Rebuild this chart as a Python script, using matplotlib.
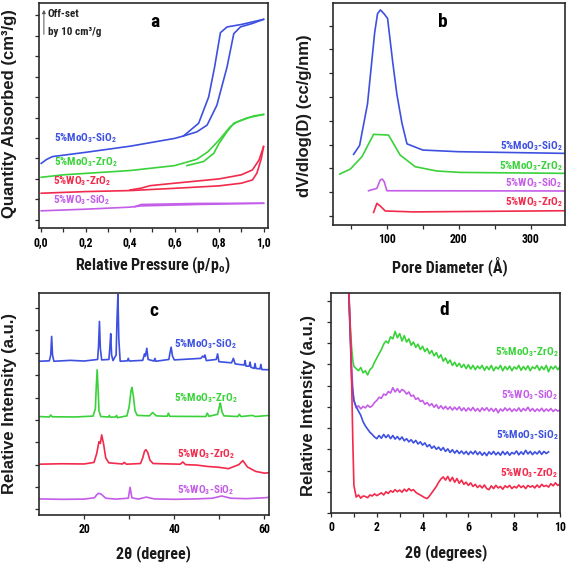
import numpy as np
import matplotlib
matplotlib.use("Agg")
import matplotlib.pyplot as plt
from matplotlib import font_manager
from matplotlib.ticker import MultipleLocator, FixedLocator, FuncFormatter

# ---------------- fonts ----------------
names = {f.name for f in font_manager.fontManager.ttflist}
if 'Roboto Condensed' in names:
    HFONT = 'Roboto Condensed'
    HS = 1.0
else:
    HFONT = 'Liberation Sans'
    HS = 0.85
VFONT = 'Liberation Sans'
plt.rcParams['font.family'] = [HFONT, 'DejaVu Sans']
plt.rcParams['font.weight'] = 'bold'
plt.rcParams['mathtext.fontset'] = 'custom'
plt.rcParams['mathtext.rm'] = HFONT + ':bold'
plt.rcParams['mathtext.bf'] = HFONT + ':bold'
plt.rcParams['mathtext.it'] = HFONT + ':bold'

BLUE = '#3d50e0'
GREEN = '#3ad23a'
RED = '#f22a4b'
PURPLE = '#c45de8'

# ---------------- panel a: isotherms ----------------
a_mosi_ads_p = [0.0, 0.024, 0.05, 0.2, 0.4, 0.6, 0.64, 0.70, 0.746, 0.79, 0.836, 0.866, 0.896, 0.95, 1.0]
a_mosi_ads_v = [2.76, 2.95, 3.09, 3.3, 3.6, 3.98, 4.1, 4.3, 4.63, 5.6, 7.48, 9.1, 9.43, 9.6, 9.8]
a_mosi_des_p = [1.0, 0.9, 0.836, 0.806, 0.78, 0.753, 0.708, 0.64]
a_mosi_des_v = [9.8, 9.55, 9.43, 9.15, 7.48, 6.0, 4.72, 4.1]

a_mozr_ads_p = [0.0, 0.1, 0.4, 0.6, 0.7, 0.75, 0.8, 0.85, 0.875, 0.896, 0.956, 1.0]
a_mozr_ads_v = [2.08, 2.2, 2.41, 2.65, 2.96, 3.33, 3.9, 4.55, 4.75, 4.85, 5.08, 5.15]
a_mozr_des_p = [1.0, 0.926, 0.866, 0.836, 0.8, 0.776, 0.73, 0.655]
a_mozr_des_v = [5.15, 4.98, 4.72, 4.31, 3.74, 3.25, 2.85, 2.65]

a_wzr_ads_p = [0.0, 0.2, 0.4, 0.6, 0.8, 0.9, 0.95, 0.97, 0.99, 1.0]
a_wzr_ads_v = [1.3, 1.38, 1.43, 1.54, 1.66, 1.79, 1.95, 2.28, 3.0, 3.58]
a_wzr_des_p = [1.0, 0.98, 0.95, 0.9, 0.8, 0.6, 0.49, 0.45, 0.4]
a_wzr_des_v = [3.58, 2.93, 2.44, 2.2, 2.0, 1.79, 1.67, 1.55, 1.46]

a_wsi_ads_p = [0.0, 0.2, 0.4, 0.45, 0.7, 1.0]
a_wsi_ads_v = [0.44, 0.52, 0.62, 0.68, 0.75, 0.81]
a_wsi_des_p = [1.0, 0.7, 0.45, 0.42]
a_wsi_des_v = [0.81, 0.8, 0.75, 0.64]

# ---------------- panel b: pore size distribution ----------------
b_mosi_d = [53.7, 62, 73, 79, 83, 87, 91, 96, 101, 108, 114, 121, 128, 150, 200, 348]
b_mosi_v = [2.59, 2.96, 4.7, 6.5, 7.7, 8.5, 8.66, 8.5, 8.3, 6.5, 5.1, 3.9, 3.03, 2.77, 2.7, 2.63]
b_mozr_d = [34.3, 49.1, 65.3, 81.5, 102.3, 118.5, 139.4, 169.4, 201.9, 348]
b_mozr_v = [1.76, 1.97, 2.49, 3.43, 3.40, 2.56, 2.07, 1.89, 1.83, 1.79]
b_wsi_d = [74.5, 86.1, 90.7, 93.5, 96.3, 100, 348]
b_wsi_v = [1.06, 1.16, 1.51, 1.55, 1.44, 1.06, 1.05]
b_wzr_d = [81.5, 86.1, 90.7, 97.7, 137, 348]
b_wzr_v = [0.15, 0.53, 0.42, 0.21, 0.17, 0.22]

# ---------------- panel c: wide-angle XRD ----------------
c_mosi_x = [10, 12.3, 12.6, 12.8, 13.0, 13.3, 17, 20, 23.0, 23.2, 23.4, 23.6, 23.9, 25.5, 25.7, 25.9,
            26.1, 26.4, 27.1, 27.3, 27.5, 27.7, 28.0, 29.6, 29.8, 30.0, 33.0, 33.4, 33.6, 33.9, 34.2,
            35.5, 35.7, 35.9, 38.8, 39.0, 39.3, 39.6, 40.0, 45.9, 46.3, 46.6, 46.8, 47.1, 49.3, 49.6,
            49.9, 52.7, 53.1, 53.5, 55.5, 55.7, 55.9, 56.6, 56.8, 57.0, 57.7, 57.9, 58.1, 59.0, 59.2,
            59.4, 61]
c_mosi_y = [6.62, 6.64, 6.9, 7.73, 6.9, 6.62, 6.66, 6.63, 6.7, 7.3, 8.4, 7.2, 6.68, 6.7, 7.2, 7.85,
            6.9, 6.65, 6.9, 8.5, 9.6, 7.6, 6.62, 6.64, 6.75, 6.63, 6.66, 6.95, 6.85, 7.2, 6.7,
            6.63, 6.75, 6.62, 6.7, 6.95, 7.25, 6.85, 6.68, 6.75, 6.85, 6.8, 6.9, 6.65, 6.7, 6.95,
            6.6, 6.55, 6.75, 6.5, 6.45, 6.65, 6.4, 6.4, 6.58, 6.35, 6.3, 6.52, 6.3, 6.28, 6.48,
            6.25, 6.24]
c_mozr_x = [10, 12.3, 12.6, 12.9, 18, 22.0, 22.5, 22.7, 22.9, 23.1, 23.3, 23.7, 25.4, 25.6, 25.8,
            27.0, 27.2, 27.4, 29.5, 30.0, 30.4, 30.6, 30.9, 31.3, 31.8, 34.5, 35.2, 36.0, 38.4, 38.7,
            39.0, 47.0, 47.3, 47.7, 49.6, 50.0, 50.2, 50.6, 51.0, 54.1, 54.4, 54.8, 57.3, 58, 61]
c_mozr_y = [4.15, 4.13, 4.22, 4.14, 4.13, 4.17, 4.5, 5.5, 6.24, 5.4, 4.4, 4.15, 4.13, 4.2, 4.12,
            4.13, 4.2, 4.1, 4.18, 4.6, 5.3, 5.45, 5.1, 4.4, 4.2, 4.18, 4.33, 4.18, 4.16, 4.3,
            4.16, 4.15, 4.3, 4.16, 4.25, 4.6, 4.75, 4.35, 4.18, 4.15, 4.25, 4.15, 4.2, 4.15, 4.2]
c_wzr_x = [10, 15, 20, 22.2, 22.8, 23.3, 23.6, 23.9, 24.3, 24.8, 25.5, 28.5, 28.9, 29.4, 32.5, 33.0,
           33.4, 33.7, 34.1, 34.6, 35.3, 41.3, 41.9, 42.5, 45, 47.3, 50, 52, 54.3, 55.2, 56.2, 58,
           60, 61]
c_wzr_y = [2.02, 2.04, 2.03, 2.1, 2.5, 3.03, 2.95, 3.33, 2.95, 2.3, 2.08, 2.03, 2.1, 2.02, 2.05, 2.3,
           2.6, 2.67, 2.55, 2.2, 2.05, 2.02, 2.12, 2.0, 1.98, 1.92, 1.88, 1.82, 2.0, 2.18, 1.9, 1.7,
           1.62, 1.64]
c_wsi_x = [10, 15, 20, 22.3, 22.8, 23.2, 23.8, 24.8, 27, 29.8, 30.2, 30.6, 32, 33.8, 35.5, 40, 45,
           48.5, 50.5, 52.5, 56, 58, 60, 61]
c_wsi_y = [0.47, 0.45, 0.46, 0.52, 0.65, 0.72, 0.68, 0.5, 0.46, 0.5, 0.99, 0.52, 0.46, 0.55, 0.47,
           0.45, 0.47, 0.5, 0.6, 0.5, 0.48, 0.5, 0.52, 0.54]

# ---------------- panel d: low-angle XRD ----------------
d_head_x = [0.76, 0.85, 0.9, 0.95, 1.0]
d_x = [round(1.1 + 0.1 * i, 1) for i in range(90)]
d_mozr_head = [10.8, 8.6, 7.8, 7.2, 6.9]
d_mozr_y = [6.8, 6.7, 6.85, 6.6, 6.7, 6.5, 6.75, 6.85, 7.1, 7.3,
            7.5, 7.7, 7.95, 8.1, 8.0, 8.3, 8.2, 8.55, 8.25, 8.45,
            8.1, 8.35, 8.05, 8.2, 7.9, 8.05, 7.8, 7.95, 7.7, 7.85,
            7.6, 7.75, 7.5, 7.65, 7.4, 7.55, 7.3, 7.45, 7.15, 7.3,
            7.05, 7.2, 6.95, 7.1, 6.9, 7.05, 6.85, 7.0, 6.8, 6.98,
            6.78, 6.95, 6.75, 6.92, 6.8, 6.95, 6.72, 6.9, 6.75, 6.95,
            6.7, 6.88, 6.78, 6.95, 6.7, 6.9, 6.75, 6.92, 6.7, 6.88,
            6.78, 6.95, 6.72, 6.9, 6.75, 6.93, 6.7, 6.88, 6.8, 6.95,
            6.72, 6.9, 6.75, 6.95, 6.65, 6.9, 6.78, 6.92, 6.75, 6.88]
d_wsi_head = [10.8, 8.2, 6.9, 5.9, 5.3]
d_wsi_y = [4.95, 5.05, 4.9, 5.02, 4.95, 5.08, 4.98, 5.05, 5.2, 5.3,
           5.45, 5.4, 5.6, 5.55, 5.72, 5.65, 5.9, 5.7, 5.85, 5.68,
           5.82, 5.75, 5.6, 5.7, 5.5, 5.55, 5.35, 5.42, 5.25, 5.3,
           5.12, 5.2, 5.05, 5.15, 4.98, 5.1, 4.92, 5.05, 4.9, 5.02,
           4.88, 5.0, 4.85, 4.98, 4.86, 5.0, 4.82, 4.95, 4.8, 4.95,
           4.82, 4.97, 4.8, 4.92, 4.78, 4.95, 4.83, 4.96, 4.8, 4.93,
           4.78, 4.92, 4.72, 4.9, 4.8, 4.95, 4.82, 4.93, 4.78, 4.9,
           4.8, 4.95, 4.78, 4.92, 4.82, 4.98, 4.8, 4.92, 4.78, 4.9,
           4.8, 4.93, 4.78, 4.9, 4.8, 4.92, 4.78, 4.88, 4.8, 4.85]
d_mosi_head = [10.8, 8.0, 6.3, 5.7, 5.3]
d_mosi_y = [5.0, 4.8, 4.6, 4.3, 4.1, 3.95, 3.8, 3.7, 3.58, 3.5,
            3.65, 3.52, 3.7, 3.55, 3.68, 3.5, 3.65, 3.48, 3.6, 3.45,
            3.58, 3.4, 3.5, 3.35, 3.45, 3.3, 3.42, 3.25, 3.35, 3.2,
            3.3, 3.12, 3.22, 3.05, 3.15, 3.0, 3.1, 2.95, 3.08, 2.9,
            3.02, 2.85, 2.98, 2.82, 2.95, 2.8, 2.92, 2.78, 2.9, 2.75,
            2.9, 2.78, 2.92, 2.75, 2.88, 2.72, 2.85, 2.7, 2.88, 2.76,
            2.9, 2.74, 2.86, 2.72, 2.9, 2.75, 2.88, 2.72, 2.85, 2.78,
            2.92, 2.74, 2.88, 2.76, 2.95, 2.78, 2.9, 2.75, 2.88, 2.78,
            2.92, 2.76, 2.9, 2.8, 2.88]
d_wzr_head = [11.0, 8.5, 6.3, 3.5, 1.3]
d_wzr_y = [0.75, 0.85, 0.7, 0.8, 0.78, 0.72, 0.85, 0.8, 0.9, 0.82,
           0.88, 0.95, 0.85, 1.0, 0.92, 1.05, 0.98, 1.1, 1.0, 1.08,
           0.98, 1.12, 1.02, 1.15, 1.05, 1.1, 0.98, 0.9, 0.85, 0.78,
           0.72, 0.68, 0.8, 0.95, 1.1, 1.25, 1.45, 1.6, 1.7, 1.55,
           1.72, 1.5, 1.68, 1.45, 1.62, 1.4, 1.55, 1.35, 1.45, 1.3,
           1.42, 1.25, 1.35, 1.2, 1.3, 1.18, 1.32, 1.15, 1.1, 1.28,
           1.15, 1.3, 1.18, 1.25, 1.12, 1.28, 1.2, 1.3, 1.15, 1.25,
           1.18, 1.32, 1.2, 1.28, 1.15, 1.3, 1.22, 1.28, 1.18, 1.32,
           1.2, 1.35, 1.25, 1.3, 1.22, 1.38, 1.28, 1.42, 1.3, 1.35]

# ---------------- figure ----------------
W, H = 567, 565
fig = plt.figure(figsize=(W / 100, H / 100), dpi=100)


def axes_px(l, t, r, b):
    return fig.add_axes([l / W, 1 - b / H, (r - l) / W, (b - t) / H])


axA = axes_px(39, 3, 268, 228)
axB = axes_px(333, 3, 565, 225)
axC = axes_px(39, 293, 269, 515)
axD = axes_px(331, 293, 560, 513)

LW = 1.2
TICK_FS = 8.5 * HS
ANN_FS = 8 * HS
LET_FS = 14 * HS
XLAB_FS = 11.5 * HS
YLAB_FS = 12


def style(ax):
    for s in ax.spines.values():
        s.set_color('#2a2a2a')
        s.set_linewidth(1.2)
    ax.tick_params(which='both', direction='out', color='#2a2a2a', width=0.9)
    ax.tick_params(which='major', length=3.2, labelsize=TICK_FS, pad=2.5)
    ax.tick_params(which='minor', length=2.6)
    ax.tick_params(axis='y', labelleft=False)


# panel a
axA.plot(a_mosi_ads_p, a_mosi_ads_v, color=BLUE, lw=LW)
axA.plot(a_mosi_des_p, a_mosi_des_v, color=BLUE, lw=LW)
axA.plot(a_mozr_ads_p, a_mozr_ads_v, color=GREEN, lw=LW)
axA.plot(a_mozr_des_p, a_mozr_des_v, color=GREEN, lw=LW)
axA.plot(a_wzr_ads_p, a_wzr_ads_v, color=RED, lw=LW)
axA.plot(a_wzr_des_p, a_wzr_des_v, color=RED, lw=LW)
axA.plot(a_wsi_ads_p, a_wsi_ads_v, color=PURPLE, lw=LW)
axA.plot(a_wsi_des_p, a_wsi_des_v, color=PURPLE, lw=LW)
axA.set_xlim(-0.01, 1.02)
axA.set_ylim(-0.4, 10.6)
axA.xaxis.set_major_locator(MultipleLocator(0.2))
axA.xaxis.set_minor_locator(MultipleLocator(0.1))
axA.xaxis.set_major_formatter(FuncFormatter(lambda v, p: f"{v:.1f}".replace('.', ',')))
axA.yaxis.set_major_locator(MultipleLocator(1))
style(axA)
axA.text(0.057, 4.0, '5%MoO$_3$-SiO$_2$', color=BLUE, fontsize=ANN_FS, va='center', ha='left')
axA.text(0.057, 2.83, '5%MoO$_3$-ZrO$_2$', color=GREEN, fontsize=ANN_FS, va='center', ha='left')
axA.text(0.053, 1.9, '5%WO$_3$-ZrO$_2$', color=RED, fontsize=ANN_FS, va='center', ha='left')
axA.text(0.053, 0.98, '5%WO$_3$-SiO$_2$', color=PURPLE, fontsize=ANN_FS, va='center', ha='left')
axA.text(0.513, 9.66, 'a', fontsize=LET_FS, ha='center', va='center')
axA.text(0.03, 10.05, 'Off-set', fontsize=ANN_FS, ha='left', va='center', color='#222')
axA.text(0.03, 9.17, 'by 10 cm³/g', fontsize=ANN_FS, ha='left', va='center', color='#222')
axA.annotate('', xy=(0.012, 10.4), xytext=(0.012, 8.93),
             arrowprops=dict(arrowstyle='-|>', color='#555', lw=0.7, mutation_scale=5))

# panel b
axB.plot(b_mosi_d, b_mosi_v, color=BLUE, lw=LW)
axB.plot(b_mozr_d, b_mozr_v, color=GREEN, lw=LW)
axB.plot(b_wsi_d, b_wsi_v, color=PURPLE, lw=LW)
axB.plot(b_wzr_d, b_wzr_v, color=RED, lw=LW)
axB.set_xlim(25, 348)
axB.set_ylim(-0.38, 8.95)
axB.xaxis.set_major_locator(FixedLocator([100, 200, 300]))
axB.xaxis.set_minor_locator(FixedLocator([50, 150, 250]))
axB.yaxis.set_major_locator(MultipleLocator(1))
style(axB)
axB.text(345, 2.94, '5%MoO$_3$-SiO$_2$', color=BLUE, fontsize=ANN_FS, va='center', ha='right')
axB.text(345, 2.1, '5%MoO$_3$-ZrO$_2$', color=GREEN, fontsize=ANN_FS, va='center', ha='right')
axB.text(345, 1.39, '5%WO$_3$-SiO$_2$', color=PURPLE, fontsize=ANN_FS, va='center', ha='right')
axB.text(345, 0.59, '5%WO$_3$-ZrO$_2$', color=RED, fontsize=ANN_FS, va='center', ha='right')
axB.text(178, 8.15, 'b', fontsize=LET_FS, ha='center', va='center')

# panel c
axC.plot(c_mosi_x, c_mosi_y, color=BLUE, lw=LW)
axC.plot(c_mozr_x, c_mozr_y, color=GREEN, lw=LW)
axC.plot(c_wzr_x, c_wzr_y, color=RED, lw=LW)
axC.plot(c_wsi_x, c_wsi_y, color=PURPLE, lw=LW)
axC.set_xlim(10, 61)
axC.set_ylim(-0.25, 9.67)
axC.xaxis.set_major_locator(FixedLocator([20, 40, 60]))
axC.xaxis.set_minor_locator(FixedLocator([30, 50]))
axC.yaxis.set_major_locator(MultipleLocator(1))
style(axC)
axC.text(47.0, 7.4, '5%MoO$_3$-SiO$_2$', color=BLUE, fontsize=ANN_FS, va='center', ha='center')
axC.text(47.0, 4.98, '5%MoO$_3$-ZrO$_2$', color=GREEN, fontsize=ANN_FS, va='center', ha='center')
axC.text(47.0, 2.48, '5%WO$_3$-ZrO$_2$', color=RED, fontsize=ANN_FS, va='center', ha='center')
axC.text(47.0, 0.86, '5%WO$_3$-SiO$_2$', color=PURPLE, fontsize=ANN_FS, va='center', ha='center')
axC.text(35.5, 8.88, 'c', fontsize=LET_FS, ha='center', va='center')

# panel d
axD.plot(d_head_x + d_x, d_mozr_head + d_mozr_y, color=GREEN, lw=LW)
axD.plot(d_head_x + d_x, d_wsi_head + d_wsi_y, color=PURPLE, lw=LW)
axD.plot(d_head_x + d_x[:len(d_mosi_y)], d_mosi_head + d_mosi_y, color=BLUE, lw=LW)
axD.plot(d_head_x + d_x, d_wzr_head + d_wzr_y, color=RED, lw=LW)
axD.set_xlim(0, 10)
axD.set_ylim(0, 10.36)
axD.xaxis.set_major_locator(MultipleLocator(2))
axD.xaxis.set_minor_locator(MultipleLocator(1))
axD.yaxis.set_major_locator(MultipleLocator(1))
style(axD)
axD.text(9.94, 7.57, '5%MoO$_3$-ZrO$_2$', color=GREEN, fontsize=ANN_FS, va='center', ha='right')
axD.text(9.94, 5.55, '5%WO$_3$-SiO$_2$', color=PURPLE, fontsize=ANN_FS, va='center', ha='right')
axD.text(9.94, 3.68, '5%MoO$_3$-SiO$_2$', color=BLUE, fontsize=ANN_FS, va='center', ha='right')
axD.text(9.94, 1.89, '5%WO$_3$-ZrO$_2$', color=RED, fontsize=ANN_FS, va='center', ha='right')
axD.text(4.95, 9.54, 'd', fontsize=LET_FS, ha='center', va='center')

for ax in (axA, axB, axC, axD):
    for lab in ax.get_xticklabels():
        lab.set_fontweight('bold')


def ftext(x, y, s, rot=0, fs=12, fam=None):
    kw = {}
    if fam:
        kw['family'] = [fam, 'DejaVu Sans']
    fig.text(x / W, 1 - y / H, s, rotation=rot, fontsize=fs, ha='center', va='center',
             fontweight='bold', color='#1a1a1a', **kw)


ftext(10, 114, 'Quantity Absorbed (cm³/g)', rot=90, fs=YLAB_FS, fam=VFONT)
ftext(153, 265, 'Relative Pressure (p/p$_\\mathbf{o}$)', fs=XLAB_FS)
ftext(305, 116, 'dV/dlog(D) (cc/g/nm)', rot=90, fs=YLAB_FS, fam=VFONT)
ftext(450, 266, 'Pore Diameter (Å)', fs=XLAB_FS)
ftext(10, 403, 'Relative Intensity (a.u.)', rot=90, fs=YLAB_FS, fam=VFONT)
ftext(154, 554, '2θ (degree)', fs=XLAB_FS)
ftext(308, 405, 'Relative Intensity (a.u.)', rot=90, fs=YLAB_FS, fam=VFONT)
ftext(446, 553, '2θ (degrees)', fs=XLAB_FS)

fig.savefig('out.png', dpi=100)
